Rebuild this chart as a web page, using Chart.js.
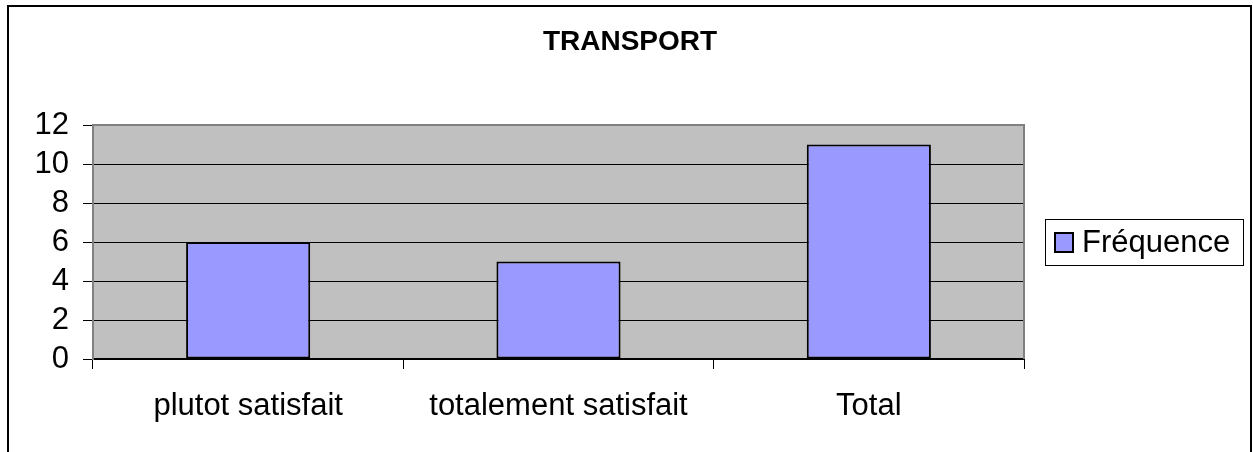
<!DOCTYPE html>
<html>
<head>
<meta charset="utf-8">
<script src="https://cdn.jsdelivr.net/npm/chart.js@4/dist/chart.umd.min.js"></script>
<style>
  html, body { margin: 0; padding: 0; background: #fff; }
  #wrap { width: 1253px; height: 452px; }
</style>
</head>
<body>
<div id="wrap"><canvas id="barChart" width="1253" height="452"></canvas></div>
<script>
const categories = ["plutot satisfait", "totalement satisfait", "Total"];
const frequence = [6, 5, 11];
const seriesName = "Fréquence";
const chartTitle = "TRANSPORT";
const yTicks = [0, 2, 4, 6, 8, 10, 12];

const FONT = "'Liberation Sans', Arial, sans-serif";

const plotBackground = {
    id: "plotBackground",
    beforeDraw(chart) {
        const { ctx, chartArea } = chart;
        ctx.save();
        ctx.fillStyle = "#fff";
        ctx.fillRect(0, 0, chart.width, chart.height);
        ctx.fillStyle = "#C0C0C0";
        ctx.fillRect(chartArea.left, chartArea.top,
            chartArea.right - chartArea.left, chartArea.bottom - chartArea.top);
        ctx.restore();
    }
};

const frameAndLegend = {
    id: "frameAndLegend",
    afterDraw(chart) {
        const { ctx, chartArea } = chart;
        ctx.save();

        // plot area border (grey) on top and right
        ctx.strokeStyle = "#808080";
        ctx.lineWidth = 2;
        ctx.beginPath();
        ctx.moveTo(chartArea.left, chartArea.bottom);
        ctx.lineTo(chartArea.left, chartArea.top);
        ctx.lineTo(chartArea.right, chartArea.top);
        ctx.lineTo(chartArea.right, chartArea.bottom);
        ctx.stroke();

        // outer frame
        ctx.strokeStyle = "#000";
        ctx.lineWidth = 2;
        ctx.strokeRect(8, 6, 1243, 460);

        // title
        ctx.fillStyle = "#000";
        ctx.font = "bold 28px " + FONT;
        ctx.textAlign = "center";
        ctx.textBaseline = "middle";
        ctx.fillText(chartTitle, 630, 42);

        // legend
        ctx.lineWidth = 1;
        ctx.strokeStyle = "#000";
        ctx.strokeRect(1045.5, 219.5, 198, 46);
        ctx.fillStyle = "#9999FF";
        ctx.fillRect(1055, 233, 18, 19);
        ctx.lineWidth = 2;
        ctx.strokeRect(1055, 233, 18, 19);
        ctx.fillStyle = "#000";
        ctx.font = "31px " + FONT;
        ctx.textAlign = "left";
        ctx.fillText(chart.data.datasets[0].label, 1082, 243);

        ctx.restore();
    }
};

new Chart(document.getElementById("barChart"), {
    type: "bar",
    data: {
        labels: categories,
        datasets: [{
            label: seriesName,
            data: frequence,
            backgroundColor: "#9999FF",
            borderColor: "#000",
            borderWidth: 2,
            borderSkipped: false,
            categoryPercentage: 1,
            barPercentage: 0.4
        }]
    },
    options: {
        responsive: false,
        animation: false,
        layout: { padding: { left: 0, right: 229, top: 125, bottom: 0 } },
        plugins: {
            legend: { display: false },
            title: { display: false },
            tooltip: { enabled: false }
        },
        scales: {
            x: {
                afterFit(scale) { scale.height = 93; },
                grid: {
                    offset: true,
                    drawOnChartArea: false,
                    drawTicks: true,
                    tickLength: 10,
                    color: "#000"
                },
                border: { color: "#000", width: 2 },
                ticks: {
                    color: "#000",
                    font: { family: FONT, size: 31 },
                    padding: 19,
                    maxRotation: 0,
                    autoSkip: false
                }
            },
            y: {
                min: 0,
                max: 12,
                afterFit(scale) { scale.width = 93; },
                afterBuildTicks(scale) {
                    scale.ticks = yTicks.map(v => ({ value: v }));
                },
                grid: {
                    color: "#000",
                    lineWidth: 1,
                    drawTicks: true,
                    tickLength: 10
                },
                border: { color: "#808080", width: 2 },
                ticks: {
                    color: "#000",
                    font: { family: FONT, size: 31 },
                    padding: 14,
                    autoSkip: false
                }
            }
        }
    },
    plugins: [plotBackground, frameAndLegend]
});
</script>
</body>
</html>
